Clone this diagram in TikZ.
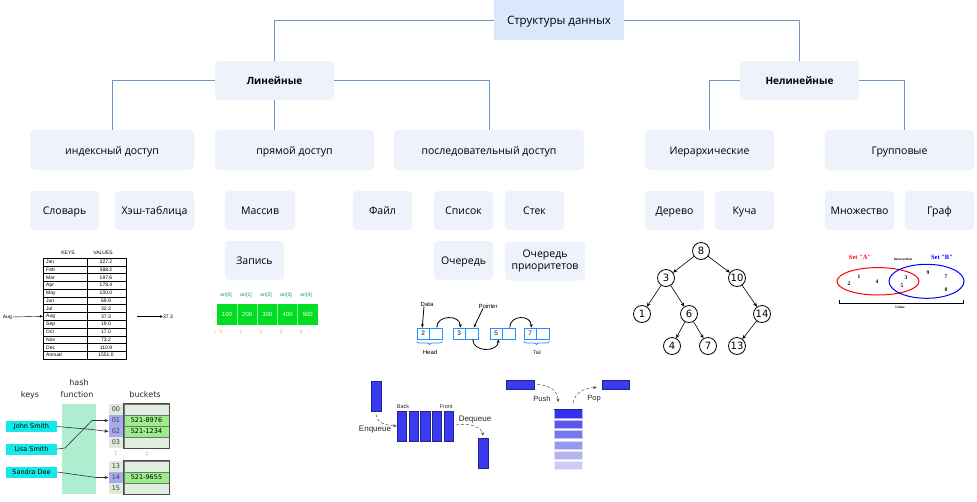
\documentclass[tikz,border=0pt]{standalone}
\usepackage{fontspec}
\setmainfont{Open Sans}
\newfontfamily\dejavu{DejaVu Sans}
\newfontfamily\libsans{Liberation Sans}
\newfontfamily\libserif{Liberation Serif}
\usetikzlibrary{arrows.meta,decorations.pathreplacing}
\definecolor{boxfill}{HTML}{EDF2FB}
\definecolor{rootfill}{HTML}{DAE8FC}
\definecolor{linkc}{HTML}{7394C6}
\definecolor{arrgreen}{HTML}{00DD22}
\definecolor{arrlabc}{HTML}{00A040}
\definecolor{arridxc}{HTML}{FFAA00}
\definecolor{llblue}{HTML}{1E90FF}
\definecolor{hashgreen}{HTML}{AEEDCF}
\definecolor{keycyan}{HTML}{14E8E8}
\definecolor{idxfill}{HTML}{DEEADE}
\definecolor{idxpurple}{HTML}{A9A9F2}
\definecolor{bktempty}{HTML}{E0EEE0}
\definecolor{bktfull}{HTML}{9CEE8C}
\definecolor{qblue}{HTML}{3A3AF0}
\definecolor{qborder}{HTML}{22228A}
\begin{document}
\begin{tikzpicture}[x=1pt,y=-1pt,
  boxbase/.style={fill=boxfill, rounded corners=4pt, inner sep=0pt, align=center,
    font=\fontsize{10.5}{12.5}\selectfont},
  box/.style={boxbase, text height=8.4pt, text depth=0pt},
  bold box/.style={box, font=\bfseries\fontsize{10}{12}\selectfont},
  link/.style={draw=linkc, line width=0.9pt},
  tabtxt/.style={font=\libsans\fontsize{5}{6}\selectfont, inner sep=0pt},
  arrval/.style={font=\libsans\fontsize{6}{7}\selectfont, text=white, inner sep=0pt},
  arrlab/.style={font=\libsans\fontsize{5}{6}\selectfont, text=arrlabc, inner sep=0pt},
  arridx/.style={font=\libsans\fontsize{5}{6}\selectfont, text=arridxc, inner sep=0pt},
  llcell/.style={draw=llblue, line width=0.9pt, fill=white, minimum width=12.5pt,
    minimum height=11pt, inner sep=0pt, font=\libsans\fontsize{6.5}{7}\selectfont},
  lltxt/.style={font=\libsans\fontsize{6}{7}\selectfont, inner sep=0pt},
  llarrow/.style={-{Stealth[length=3.5pt,width=3pt]}, line width=0.8pt},
  tnode/.style={circle, draw, line width=0.8pt, minimum size=17pt, inner sep=0pt,
    font=\dejavu\fontsize{10}{12}\selectfont},
  tedge/.style={-{Stealth[length=4pt,width=3.5pt]}, line width=0.6pt},
  venntxt/.style={font=\libserif\bfseries\fontsize{5.5}{6}\selectfont, inner sep=0pt},
  htxt/.style={font=\dejavu\fontsize{8}{9}\selectfont, inner sep=0pt, text=black!85},
  keybox/.style={fill=keycyan, minimum width=51pt, minimum height=11pt, inner sep=0pt,
    font=\dejavu\fontsize{6.5}{7}\selectfont},
  idxcell/.style={fill=idxfill, minimum width=14pt, minimum height=11pt, inner sep=0pt,
    font=\dejavu\fontsize{6.5}{7}\selectfont, text=black!75},
  bktcell/.style={fill=bktempty, draw=black!55, line width=0.5pt, minimum width=45pt,
    minimum height=11pt, inner sep=0pt, font=\dejavu\fontsize{6.5}{7}\selectfont},
  harrow/.style={-{Latex[length=4pt,width=3.5pt]}, line width=0.6pt, black!80},
  qblock/.style={fill=qblue, draw=qborder, line width=0.5pt, inner sep=0pt},
  qtxt/.style={font=\libsans\fontsize{8}{9}\selectfont, inner sep=0pt, text=black!85},
  qsmall/.style={font=\libsans\fontsize{5.5}{6}\selectfont, inner sep=0pt, text=black!85},
  darrow/.style={densely dashed, line width=0.5pt, black!70, -{Stealth[length=3.5pt,width=3pt]}}
]
\useasboundingbox (0,0) rectangle (977,501);

% ---------- hierarchy boxes ----------
\node[fill=rootfill, inner sep=0pt, minimum width=130pt, minimum height=40pt,
  text height=9pt, text depth=0pt,
  font=\fontsize{11.5}{13}\selectfont] (root) at (559,20) {Структуры данных};
\node[bold box, minimum width=119pt, minimum height=39pt] (lin) at (274.5,80.5) {Линейные};
\node[bold box, minimum width=119pt, minimum height=39pt] (nonlin) at (799.5,80.5) {Нелинейные};
\node[box, minimum width=164pt, minimum height=40pt] (idx) at (112,150) {индексный доступ};
\node[box, minimum width=159pt, minimum height=40pt] (direct) at (294.5,150) {прямой доступ};
\node[box, minimum width=190pt, minimum height=40pt] (seq) at (489,150) {последовательный доступ};
\node[box, minimum width=129pt, minimum height=40pt] (hier) at (709.5,150) {Иерархические};
\node[box, minimum width=149pt, minimum height=40pt] (group) at (899.5,150) {Групповые};
\node[box, minimum width=69pt, minimum height=39pt] (dict) at (64.5,210.5) {Словарь};
\node[box, minimum width=79pt, minimum height=39pt] (hasht) at (154.5,210.5) {Хэш-таблица};
\node[box, minimum width=70pt, minimum height=39pt] (arr) at (260,210.5) {Массив};
\node[box, minimum width=59pt, minimum height=39pt] (file) at (382.5,210.5) {Файл};
\node[box, minimum width=59pt, minimum height=39pt] (list) at (463.5,210.5) {Список};
\node[box, minimum width=59pt, minimum height=39pt] (stk) at (534.5,210.5) {Стек};
\node[box, minimum width=59pt, minimum height=39pt] (rec) at (254.5,260.5) {Запись};
\node[box, minimum width=59pt, minimum height=39pt] (que) at (463.5,260.5) {Очередь};
\node[boxbase, minimum width=80pt, minimum height=39pt] (pque) at (545,261) {Очередь\\приоритетов};
\node[box, minimum width=59pt, minimum height=39pt] (tree) at (674.5,210.5) {Дерево};
\node[box, minimum width=59pt, minimum height=39pt] (heap) at (744.5,210.5) {Куча};
\node[box, minimum width=69pt, minimum height=39pt] (set) at (859.5,210.5) {Множество};
\node[box, minimum width=69pt, minimum height=39pt] (graph) at (939.5,210.5) {Граф};

\draw[link] (root.west) -| (lin.north);
\draw[link] (root.east) -| (nonlin.north);
\draw[link] (lin.west) -| (idx.north);
\draw[link] (lin.south) -- (lin.south |- direct.north);
\draw[link] (lin.east) -| (seq.north);
\draw[link] (nonlin.west) -| (hier.north);
\draw[link] (nonlin.east) -| ([xshift=4.5pt]group.north);

% ---------- dictionary table ----------
\node[tabtxt] (kh) at (68,253) {KEYS};
\node[tabtxt] (vh) at (103,253) {VALUES};
\draw[line width=0.5pt] (43,258) rectangle (126,359);
\draw[line width=0.4pt] (87,258) -- (87,359);
\foreach \k/\v [count=\i] in {Jan/327.2,Feb/388.2,Mar/197.6,Apr/178.4,May/100.0,Jun/69.9,Jul/32.3,Aug/37.3,Sep/19.0,Oct/17.0,Nov/73.2,Dec/110.9,Annual/1551.0}{
  \node[tabtxt, anchor=west] (k\i) at (46,{258+(\i-0.5)*7.77}) {\k};
  \node[tabtxt] (v\i) at (106,{258+(\i-0.5)*7.77}) {\v};
}
\foreach \i in {1,...,12}{
  \draw[line width=0.4pt] (43,{258+\i*7.77}) -- (126,{258+\i*7.77});
}
\node[tabtxt, anchor=east] (augin) at (12,317) {Aug};
\draw[-{Latex[length=3pt,width=2.5pt]}, line width=0.4pt] (augin.east) -- ([xshift=-3pt]k8.west);
\node[tabtxt, anchor=west] (augout) at (163,316.5) {37.3};
\draw[-{Latex[length=3pt,width=2.5pt]}, line width=0.4pt] (137,316.5) -- (augout.west);

% ---------- array ----------
\fill[arrgreen] (217,304) rectangle (318,325);
\foreach \x in {237,257,277,297}{
  \draw[white!60!arrgreen, line width=0.7pt] (\x,304) -- (\x,325);
}
\foreach \v [count=\i from 0] in {100,200,300,400,500}{
  \node[arrval] (av\i) at ({227+\i*20.2},314.5) {\v};
  \node[arrlab] (al\i) at ({226+\i*20},295) {arr[\i]};
  \node[arridx] (ai\i) at ({221+\i*20},332) {\i};
}
\fill[arridxc] (215,314) circle (0.7pt);
\fill[arridxc] (215,332) circle (0.7pt);

% ---------- linked list ----------
\foreach \x/\v [count=\i] in {417/2,453/3,490/5,524/7}{
  \node[llcell] (n\i a) at ({\x+6.25},333.5) {\v};
  \node[llcell] (n\i b) at ({\x+18.75},333.5) {};
}
\draw[llarrow] ([xshift=1pt]n1b.north) .. controls +(0,-13) and +(0,-13) .. ([xshift=1pt]n2a.north);
\draw[llarrow] ([xshift=1pt]n2b.south) .. controls +(0,13) and +(0,13) .. ([xshift=2pt]n3a.south);
\draw[llarrow] ([xshift=1pt]n3b.north) .. controls +(0,-13) and +(0,-13) .. ([xshift=1pt]n4a.north);
\node[lltxt] (datal) at (427,304) {Data};
\draw[llarrow] ([xshift=-3pt]datal.south) -- ([xshift=-1pt]n1a.north);
\node[lltxt] (ptrl) at (488,306) {Pointer};
\draw[llarrow] ([xshift=-5pt]ptrl.south) -- ([xshift=2pt]n2b.north);
\draw[llblue, line width=0.8pt, decorate, decoration={brace, mirror, amplitude=3pt}]
  ([yshift=-2pt]n1a.south west) -- ([yshift=-2pt]n1b.south east);
\draw[llblue, line width=0.8pt, decorate, decoration={brace, mirror, amplitude=3pt}]
  ([yshift=-2pt]n4a.south west) -- ([yshift=-2pt]n4b.south east);
\node[lltxt] (headl) at (430,352) {Head};
\node[lltxt, font=\libsans\fontsize{5}{6}\selectfont] (taill) at (537,353) {Tail};

% ---------- tree ----------
\node[tnode] (t8) at (701,251) {8};
\node[tnode] (t3) at (666,278) {3};
\node[tnode] (t10) at (737,278) {10};
\node[tnode] (t1) at (642,314) {1};
\node[tnode] (t6) at (689,314) {6};
\node[tnode] (t14) at (762,314) {14};
\node[tnode] (t4) at (672,346) {4};
\node[tnode] (t7) at (708,346) {7};
\node[tnode] (t13) at (737,346) {13};
\foreach \a/\b in {t8/t3,t8/t10,t3/t1,t3/t6,t10/t14,t6/t4,t6/t7,t14/t13}{
  \draw[tedge] (\a) -- (\b);
}

% ---------- venn ----------
\draw[red, line width=1pt] (878,281.3) ellipse [x radius=41pt, y radius=13.7pt];
\draw[blue, line width=1pt] (926.5,281.3) ellipse [x radius=37.5pt, y radius=17pt];
\node[venntxt, text=red, font=\libserif\bfseries\fontsize{6.5}{7}\selectfont] (sa) at (860,257) {Set "A"};
\node[venntxt, text=blue, font=\libserif\bfseries\fontsize{6.5}{7}\selectfont] (sb) at (942,257) {Set "B"};
\node[venntxt, font=\libserif\bfseries\fontsize{3.5}{4}\selectfont] (inter) at (903,259) {Intersection};
\foreach \n/\x/\y in {1/859/277,2/849/284,4/877/282,3/906/278,5/902/286,9/928/273,7/946/277,8/946/290}{
  \node[venntxt] (e\n) at (\x,\y) {\n};
}
\draw[line width=0.5pt] (839,300) -- (839,303) -- (963,303) -- (963,300);
\node[venntxt, font=\libserif\bfseries\fontsize{3.5}{4}\selectfont] (union) at (900,307.5) {Union};

% ---------- hash table ----------
\fill[hashgreen] (62,404) rectangle (96,494);
\node[htxt] (hh) at (79,383) {hash};
\node[htxt] (hf) at (77,395) {function};
\node[htxt] (hk) at (30,395) {keys};
\node[htxt] (hb) at (145,395) {buckets};
\node[keybox] (jsm) at (31.5,426.5) {John Smith};
\node[keybox] (lsm) at (31.5,449) {Lisa Smith};
\node[keybox] (sde) at (31.5,472) {Sandra Dee};
\foreach \n/\y/\c in {00/409.5/idxfill,01/420.5/idxpurple,02/431.5/idxpurple,03/442.5/idxfill,13/466.5/idxfill,14/477.5/idxpurple,15/488.5/idxfill}{
  \node[idxcell, fill=\c] (i\n) at (116,\y) {\n};
}
\node[bktcell] (b00) at (146.5,409.5) {};
\node[bktcell, fill=bktfull] (b01) at (146.5,420.5) {521-8976};
\node[bktcell, fill=bktfull] (b02) at (146.5,431.5) {521-1234};
\node[bktcell] (b03) at (146.5,442.5) {};
\node[bktcell] (b13) at (146.5,466.5) {};
\node[bktcell, fill=bktfull] (b14) at (146.5,477.5) {521-9655};
\node[bktcell] (b15) at (146.5,488.5) {};
\draw[black!70, line width=0.6pt] (b00.north west) rectangle (b03.south east);
\draw[black!70, line width=0.6pt] (b13.north west) rectangle (b15.south east);
\node[htxt, font=\dejavu\fontsize{6.5}{7}\selectfont] (c1) at (116,454) {:};
\node[htxt, font=\dejavu\fontsize{6.5}{7}\selectfont] (c2) at (147,454) {:};
\draw[harrow] (jsm.east) -- (92,429.5) -- (i02.west);
\draw[harrow] (lsm.east) -- (65,448) -- (92,420.5) -- (i01.west);
\draw[harrow] (sde.east) -- (96,477.5) -- (i14.west);

% ---------- queue ----------
\node[qblock, minimum width=10pt, minimum height=30pt] (enq) at (376,396) {};
\foreach \x [count=\i] in {397,409,420.5,432,444}{
  \node[qblock, minimum width=9.5pt, minimum height=30pt] (q\i) at ({\x+4.75},426) {};
}
\node[qblock, minimum width=10pt, minimum height=30pt] (deq) at (483,453) {};
\node[qsmall] (back) at (403,407) {Back};
\node[qsmall] (front) at (446,407) {Front};
\node[qtxt] (enqt) at (375,430) {Enqueue};
\node[qtxt] (deqt) at (475,420) {Dequeue};
\draw[darrow] ([yshift=-3pt]enq.south) .. controls (377,423) and (385,425) .. (q1.west);
\draw[darrow] (456,425) .. controls (470,422) and (482,428) .. ([yshift=2pt]deq.north);

% ---------- stack ----------
\node[qblock, minimum width=28pt, minimum height=9pt] (pushb) at (520,384.5) {};
\node[qblock, minimum width=27pt, minimum height=9pt] (popb) at (615.5,384.5) {};
\node[qtxt, font=\libsans\fontsize{7.5}{9}\selectfont] (pusht) at (542,399) {Push};
\node[qtxt, font=\libsans\fontsize{7.5}{9}\selectfont] (popt) at (594,399) {Pop};
\definecolor{sc1}{HTML}{3333EE}
\definecolor{sc2}{HTML}{5858EE}
\definecolor{sc3}{HTML}{7878EE}
\definecolor{sc4}{HTML}{9898EE}
\definecolor{sc5}{HTML}{B4B4F0}
\definecolor{sc6}{HTML}{CCCCF6}
\foreach \y [count=\i] in {413.5,424,434,445,455,465}{
  \node[fill=sc\i, draw=white!60!sc\i, line width=0.4pt, minimum width=28pt, minimum height=8.5pt, inner sep=0pt] (s\i) at (568,\y) {};
}
\draw[qborder, line width=0.8pt] (s1.north west) -- (s1.north east);
\coordinate (pushend) at (558,402);
\coordinate (popstart) at (573,403);
\draw[darrow] ([xshift=3pt]pushb.east) .. controls (550,385) and (558,391) .. (pushend);
\draw[darrow] (popstart) .. controls (575,392) and (585,388) .. ([xshift=-5pt,yshift=-3pt]popb.west);
\end{tikzpicture}
\end{document}
